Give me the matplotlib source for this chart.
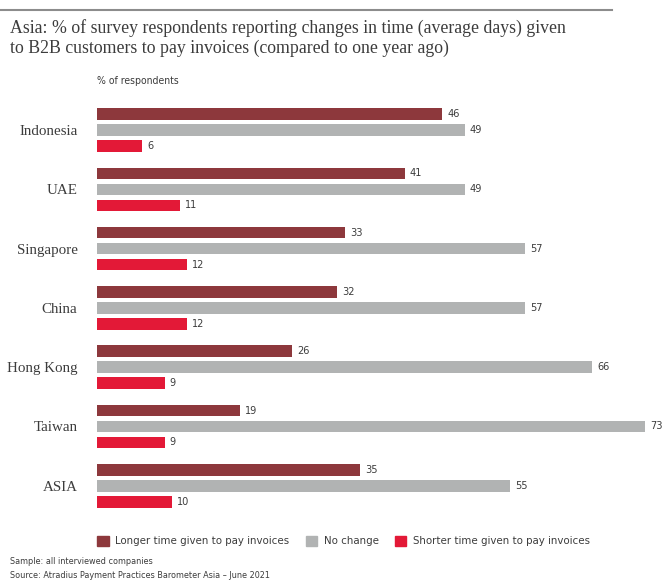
import matplotlib
matplotlib.use('Agg')
import matplotlib.pyplot as plt
from matplotlib.patches import Patch
from matplotlib.lines import Line2D

# Data
countries = ['Indonesia', 'UAE', 'Singapore', 'China', 'Hong Kong', 'Taiwan', 'ASIA']
longer = [46, 41, 33, 32, 26, 19, 35]
no_change = [49, 49, 57, 57, 66, 73, 55]
shorter = [6, 11, 12, 12, 9, 9, 10]

c_longer = '#8d383c'
c_none = '#b1b3b3'
c_shorter = '#e31937'
txt = '#3c3c3c'

plt.rcParams['font.family'] = 'DejaVu Sans'
plt.rcParams['font.stretch'] = 'condensed'

W, H = 664, 586
fig = plt.figure(figsize=(W / 100, H / 100), dpi=100)

# axes placed in pixel terms
left, right, top, bottom = 97, 664, 100, 515
ax = fig.add_axes([left / W, 1 - bottom / H, (right - left) / W, (bottom - top) / H])

step = 59.3
y0 = 130
ax.set_ylim((bottom - y0) / step, (top - y0) / step)
ax.set_xlim(0, (right - left) / 7.5)

off = 16 / step
h = 11.5 / step
series = [(longer, -off, c_longer), (no_change, 0, c_none), (shorter, off, c_shorter)]
for vals, dy, col in series:
    ys = [i + dy for i in range(len(countries))]
    ax.barh(ys, vals, height=h, color=col)
    for y, v in zip(ys, vals):
        ax.text(v + 0.7, y, str(v), va='center', ha='left', fontsize=7.8, color=txt)

ax.set_yticks(range(len(countries)))
ax.set_yticklabels(countries, fontsize=10.8, family='Liberation Serif', color=txt)
ax.tick_params(axis='y', length=0, pad=14)
ax.set_xticks([])
for s in ax.spines.values():
    s.set_visible(False)

# top rule
fig.add_artist(Line2D([0, 612 / W], [1 - 10 / H, 1 - 10 / H], color='#8c8c8c', lw=1.5))

fig.text(10 / W, 1 - 19 / H,
         'Asia: % of survey respondents reporting changes in time (average days) given\n'
         'to B2B customers to pay invoices (compared to one year ago)',
         ha='left', va='top', fontsize=12.8, family='Liberation Serif', color=txt, linespacing=1.2)
fig.text(97 / W, 1 - 81 / H, '% of respondents', ha='left', va='center', fontsize=7.5, color=txt)

handles = [Patch(color=c_longer), Patch(color=c_none), Patch(color=c_shorter)]
labels = ['Longer time given to pay invoices', 'No change', 'Shorter time given to pay invoices']
fig.legend(handles, labels, ncol=3, loc='center left', bbox_to_anchor=(87 / W, 1 - 541 / H),
           frameon=False, fontsize=8.2, handlelength=1.0, handleheight=1.0, handletextpad=0.6,
           columnspacing=1.4, labelcolor=txt)

fig.text(10 / W, 1 - 562 / H, 'Sample: all interviewed companies', fontsize=6.5, color=txt, va='center')
fig.text(10 / W, 1 - 576 / H, 'Source: Atradius Payment Practices Barometer Asia \u2013 June 2021',
         fontsize=6.5, color=txt, va='center')

fig.savefig('out.png', dpi=100, facecolor='white')
